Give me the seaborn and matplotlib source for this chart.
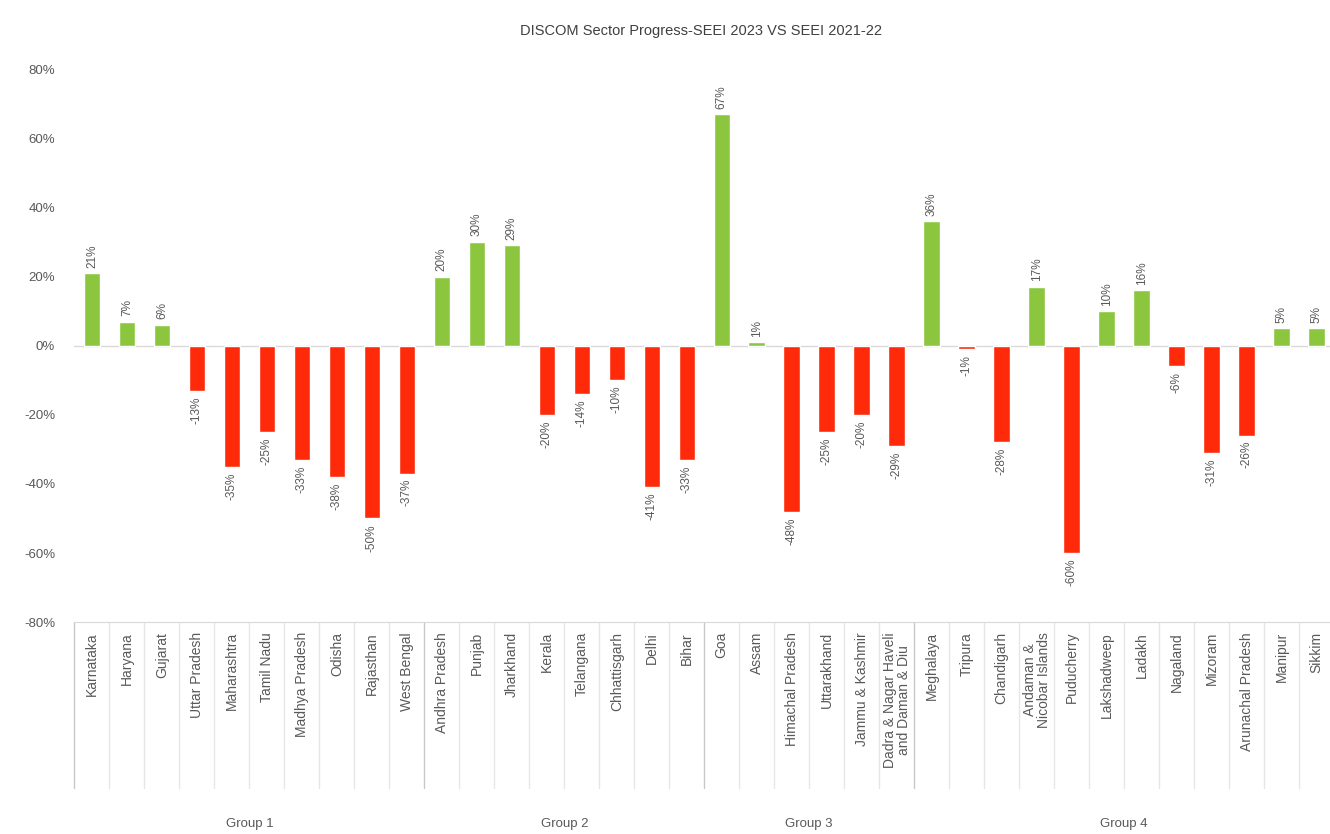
import numpy as np
import pandas as pd
import matplotlib
matplotlib.use("Agg")
import matplotlib.pyplot as plt
import matplotlib.transforms as mtransforms
import seaborn as sns

# ---- data ----
states = [
    "Karnataka", "Haryana", "Gujarat", "Uttar Pradesh", "Maharashtra",
    "Tamil Nadu", "Madhya Pradesh", "Odisha", "Rajasthan", "West Bengal",
    "Andhra Pradesh", "Punjab", "Jharkhand", "Kerala", "Telangana",
    "Chhattisgarh", "Delhi", "Bihar",
    "Goa", "Assam", "Himachal Pradesh", "Uttarakhand", "Jammu & Kashmir",
    "Dadra & Nagar Haveli\nand Daman & Diu",
    "Meghalaya", "Tripura", "Chandigarh", "Andaman &\nNicobar Islands",
    "Puducherry", "Lakshadweep", "Ladakh", "Nagaland", "Mizoram",
    "Arunachal Pradesh", "Manipur", "Sikkim",
]
change_pct = [
    21, 7, 6, -13, -35, -25, -33, -38, -50, -37,
    20, 30, 29, -20, -14, -10, -41, -33,
    67, 1, -48, -25, -20, -29,
    36, -1, -28, 17, -60, 10, 16, -6, -31, -26, 5, 5,
]
group_names = ["Group 1", "Group 2", "Group 3", "Group 4"]
group_sizes = [10, 8, 6, 12]

groups = np.repeat(group_names, group_sizes)
df = pd.DataFrame({"state": states, "change": change_pct, "group": groups})

GREEN = "#8CC63F"
RED = "#FF2A0A"
colors = [GREEN if v >= 0 else RED for v in change_pct]

sns.set_style("white")
plt.rcParams["font.family"] = ["Liberation Sans", "DejaVu Sans"]

fig = plt.figure(figsize=(13.3, 8.34), dpi=100)
ax = fig.add_axes([0.056, 0.254, 0.947, 0.663])

sns.barplot(data=df, x="state", y="change", hue="state", palette=colors,
            legend=False, width=0.47, saturation=1, ax=ax)

ax.set_ylim(-80, 80)
ax.set_xlim(-0.5, len(states) - 0.5)
ax.set_yticks(np.arange(-80, 81, 20))
ax.set_yticklabels([f"{t}%" for t in range(-80, 81, 20)], color="#595959", fontsize=9.5)
ax.tick_params(axis="y", length=0, pad=14)
ax.tick_params(axis="x", length=0, pad=7)
ax.set_xticks(range(len(states)))
ax.set_xticklabels(states, rotation=90, fontsize=10, color="#595959",
                   va="top", ha="center", linespacing=1.0)
ax.set_xlabel("")
ax.set_ylabel("")
for side in ["top", "right", "left"]:
    ax.spines[side].set_visible(False)
ax.spines["bottom"].set_color("#D9D9D9")
ax.axhline(0, color="#D9D9D9", lw=1, zorder=0)

# value labels
for i, v in enumerate(change_pct):
    if v >= 0:
        ax.annotate(f"{v}%", (i, v), xytext=(0, 4), textcoords="offset points",
                    rotation=90, ha="center", va="bottom", fontsize=8.5, color="#595959")
    else:
        ax.annotate(f"{v}%", (i, v), xytext=(0, -4), textcoords="offset points",
                    rotation=90, ha="center", va="top", fontsize=8.5, color="#595959")

# multi-level category axis dividers
trans = mtransforms.blended_transform_factory(ax.transData, ax.transAxes)
bounds = np.cumsum([0] + group_sizes)
for b in range(len(states) + 1):
    is_group = b in bounds
    ax.plot([b - 0.5, b - 0.5], [0, -0.30], transform=trans, clip_on=False,
            color="#C8C8C8" if is_group else "#E6E6E6", lw=1)

for name, start, size in zip(group_names, bounds[:-1], group_sizes):
    ax.text(start + (size - 1) / 2, -0.365, name, transform=trans,
            ha="center", va="center", fontsize=9.5, color="#595959")

fig.text(0.527, 0.963, "DISCOM Sector Progress-SEEI 2023 VS SEEI 2021-22",
         ha="center", va="center", fontsize=10.5, color="#404040")

fig.savefig("out.png", dpi=100, facecolor="white")
